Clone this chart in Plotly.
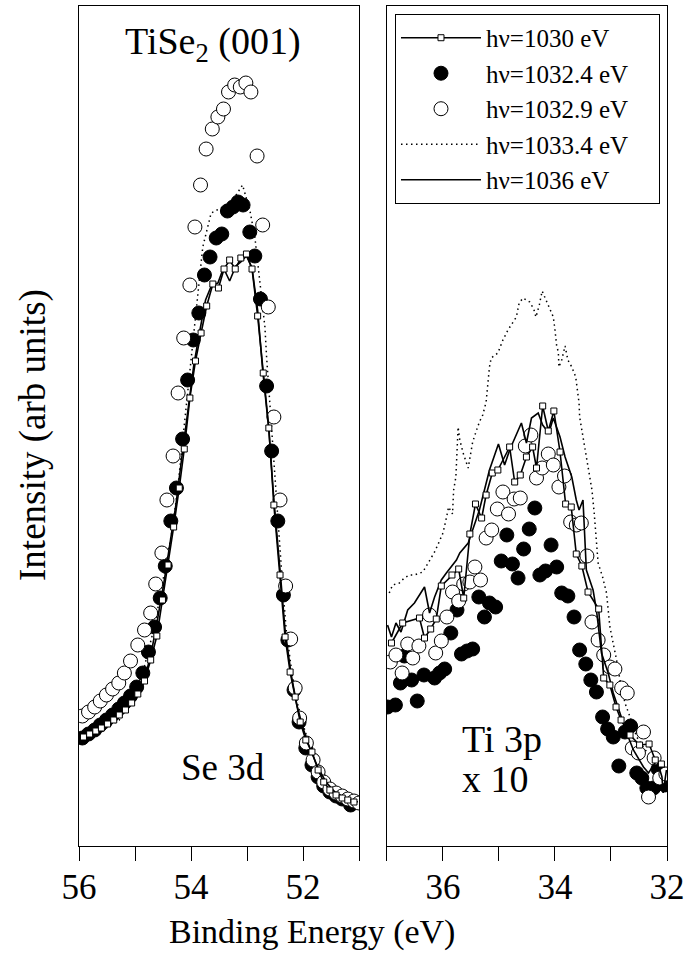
import plotly.graph_objects as go

FONT = "'Liberation Serif', 'Times New Roman', Times, 'DejaVu Serif', serif"

# ---------------- Se 3d (left panel) ----------------
se_x_1030 = [55.92, 55.81, 55.70, 55.60, 55.49, 55.38, 55.28, 55.17, 55.06, 54.95,
             54.83, 54.72, 54.61, 54.51, 54.41, 54.31, 54.21, 54.12, 54.02, 53.92,
             53.82, 53.72, 53.61, 53.51, 53.41, 53.31, 53.21, 53.11, 53.01, 52.91,
             52.81, 52.71, 52.61, 52.52, 52.41, 52.32, 52.23, 52.14, 52.05, 51.95,
             51.84, 51.73, 51.63, 51.52, 51.41, 51.30, 51.20, 51.09]
se_y_1030 = [10.9, 11.2, 11.5, 11.8, 12.2, 12.6, 13.1, 13.6, 14.3, 15.2,
             16.5, 18.6, 21.0, 24.6, 28.1, 31.9, 35.8, 39.7, 44.8, 48.5,
             51.3, 54.0, 56.2, 55.8, 57.7, 58.6, 57.7, 58.8, 59.2, 57.7,
             53.0, 47.3, 41.8, 34.1, 27.1, 20.9, 17.4, 14.9, 12.4, 10.6,
             9.4, 7.6, 6.4, 5.6, 5.1, 4.8, 4.6, 4.4]

se_x_10324 = [55.94, 55.83, 55.72, 55.62, 55.51, 55.40, 55.29, 55.19, 55.08, 54.97,
              54.86, 54.76, 54.65, 54.55, 54.46, 54.36, 54.26, 54.15, 54.06, 53.96,
              53.86, 53.76, 53.66, 53.55, 53.45, 53.35, 53.25, 53.16, 53.07, 52.95,
              52.86, 52.76, 52.65, 52.56, 52.45, 52.35, 52.27, 52.16, 52.07, 51.95,
              51.84, 51.73, 51.63, 51.52, 51.41, 51.30, 51.15]
se_y_10324 = [10.8, 11.2, 11.6, 12.1, 12.6, 13.1, 13.7, 14.3, 15.0, 15.9,
              17.3, 19.4, 21.9, 24.8, 28.0, 32.5, 35.8, 40.7, 46.6, 50.6,
              53.3, 57.1, 58.9, 60.8, 61.2, 63.5, 63.9, 64.4, 64.1, 61.4,
              59.0, 54.7, 46.0, 39.5, 32.5, 25.1, 20.6, 15.6, 12.4, 9.8,
              8.1, 6.9, 6.0, 5.4, 5.0, 4.7, 4.1]

se_x_10329 = [55.94, 55.83, 55.72, 55.62, 55.51, 55.40, 55.29, 55.19, 55.08, 54.95,
              54.83, 54.72, 54.63, 54.52, 54.43, 54.32, 54.23, 54.13, 54.02, 53.93,
              53.83, 53.73, 53.62, 53.52, 53.42, 53.33, 53.22, 53.12, 53.02, 52.93,
              52.82, 52.72, 52.62, 52.52, 52.41, 52.31, 52.22, 52.14, 52.06, 51.94,
              51.82, 51.73, 51.63, 51.52, 51.41, 51.30, 51.20, 51.09, 51.00]
se_y_10329 = [13.0, 13.4, 13.9, 14.5, 15.1, 15.7, 16.3, 17.3, 18.5, 20.1,
              21.6, 23.3, 26.2, 29.3, 34.6, 39.0, 45.3, 50.8, 56.1, 61.9,
              66.1, 69.7, 71.7, 72.9, 73.7, 75.4, 76.1, 75.9, 76.3, 75.4,
              69.0, 62.1, 53.9, 42.9, 34.6, 26.0, 20.7, 15.8, 12.8, 10.3,
              8.6, 7.4, 6.4, 5.7, 5.3, 5.0, 4.7, 4.5, 4.3]

se_x_10334 = [55.99, 55.63, 55.28, 55.01, 54.83, 54.65, 54.47, 54.35, 54.24, 54.15,
              54.02, 53.93, 53.87, 53.79, 53.64, 53.43, 53.24, 53.08, 52.95, 52.86,
              52.80, 52.74, 52.68, 52.65, 52.59, 52.50, 52.38, 52.30, 52.20, 52.09,
              51.97, 51.84, 51.70, 51.52, 51.34, 51.16, 51.02]
se_y_10334 = [10.4, 11.4, 12.6, 15.0, 18.0, 22.0, 27.5, 31.1, 35.6, 40.6,
              47.3, 52.6, 55.9, 59.9, 63.3, 63.9, 64.7, 66.1, 63.6, 60.9,
              57.9, 54.6, 51.9, 48.9, 43.9, 37.3, 27.3, 21.6, 17.4, 14.1,
              11.6, 9.4, 7.6, 6.0, 5.1, 4.6, 4.3]

se_x_1036 = [55.99, 55.63, 55.28, 55.01, 54.83, 54.70, 54.60, 54.49, 54.38, 54.27,
             54.17, 54.06, 53.95, 53.84, 53.74, 53.63, 53.52, 53.42, 53.31, 53.20,
             53.11, 53.01, 52.91, 52.81, 52.72, 52.61, 52.52, 52.41, 52.32, 52.21,
             52.11, 52.00, 51.88, 51.73, 51.59, 51.43, 51.25, 51.02]
se_y_1036 = [10.5, 11.6, 13.0, 14.6, 16.6, 19.6, 22.6, 26.1, 30.1, 34.1,
             38.6, 43.6, 48.1, 51.6, 54.6, 56.1, 56.3, 57.8, 56.5, 58.0,
             58.4, 59.0, 57.8, 53.6, 47.6, 41.6, 34.6, 27.6, 21.6, 17.1,
             14.1, 11.8, 9.8, 7.8, 6.4, 5.4, 4.8, 4.4]

# ---------------- Ti 3p x10 (right panel) ----------------
ti_x_1030 = [36.92, 36.72, 36.42, 36.33, 36.22, 36.12, 36.03, 35.84, 35.72, 35.63,
             35.52, 35.42, 35.31, 35.23, 35.12, 35.02, 34.81, 34.72, 34.62, 34.51,
             34.40, 34.33, 34.22, 34.12, 34.02, 33.91, 33.81, 33.71, 33.62, 33.52,
             33.41, 33.22, 33.13, 33.02, 32.91, 32.82, 32.66, 32.49, 32.32, 32.21,
             32.10]
ti_y_1030 = [20.3, 22.3, 22.8, 20.8, 21.7, 22.7, 26.0, 27.1, 27.7, 24.8,
             31.2, 34.2, 32.8, 35.1, 37.3, 37.6, 39.9, 36.4, 37.1, 38.9,
             39.9, 37.8, 44.0, 41.5, 43.5, 39.4, 34.2, 33.9, 29.2, 28.0,
             25.4, 23.7, 16.8, 16.1, 13.9, 12.6, 11.1, 10.1, 10.2, 8.6,
             8.2]

ti_x_10324 = [36.99, 36.85, 36.76, 36.69, 36.56, 36.46, 36.34, 36.15, 36.06, 35.97,
              35.86, 35.75, 35.67, 35.57, 35.47, 35.36, 35.26, 35.17, 35.06, 34.96,
              34.86, 34.76, 34.66, 34.56, 34.46, 34.36, 34.27, 34.17, 34.07, 33.97,
              33.88, 33.77, 33.66, 33.56, 33.45, 33.36, 33.26, 33.15, 33.06, 32.96,
              32.86, 32.75, 32.65, 32.54, 32.45, 32.36, 32.24, 32.16, 32.04]
ti_y_10324 = [13.9, 14.1, 16.3, 19.0, 16.6, 14.5, 17.1, 16.8, 17.3, 17.7,
              21.3, 23.6, 19.2, 19.5, 19.7, 24.9, 22.9, 24.3, 23.9, 28.5,
              31.1, 28.2, 26.8, 29.7, 31.7, 33.8, 27.1, 27.5, 30.1, 27.9,
              25.3, 25.0, 22.9, 19.6, 18.2, 16.6, 15.4, 12.9, 11.7, 10.9,
              8.0, 11.4, 12.0, 7.3, 6.8, 5.8, 5.8, 7.7, 6.1]

ti_x_10329 = [36.94, 36.84, 36.73, 36.63, 36.54, 36.43, 36.24, 36.13, 36.03, 35.93,
              35.83, 35.72, 35.63, 35.52, 35.43, 35.33, 35.23, 35.13, 35.03, 34.93,
              34.83, 34.73, 34.62, 34.53, 34.43, 34.33, 34.23, 34.12, 34.03, 33.93,
              33.83, 33.72, 33.62, 33.53, 33.43, 33.34, 33.23, 33.13, 33.02, 32.93,
              32.81, 32.71, 32.62, 32.51, 32.42, 32.33, 32.23, 32.13, 32.02]
ti_y_10329 = [18.4, 19.1, 17.3, 20.2, 18.8, 20.0, 23.1, 19.3, 20.5, 22.9,
              25.4, 24.5, 26.2, 26.4, 27.9, 26.6, 30.8, 31.6, 33.7, 35.4,
              33.2, 34.7, 34.8, 40.0, 41.1, 36.8, 37.8, 39.2, 38.1, 35.9,
              37.0, 32.4, 32.1, 32.3, 29.0, 22.4, 20.6, 19.1, 17.9, 17.7,
              15.8, 15.3, 9.8, 9.3, 11.4, 4.9, 8.8, 6.8, 7.2]

ti_x_10334 = [36.96, 36.90, 36.78, 36.69, 36.60, 36.51, 36.36, 36.27, 36.15, 36.07,
              36.00, 35.94, 35.90, 35.83, 35.81, 35.77, 35.73, 35.70, 35.64, 35.55,
              35.52, 35.47, 35.40, 35.35, 35.29, 35.23, 35.17, 35.14, 35.02, 34.93,
              34.84, 34.78, 34.69, 34.64, 34.57, 34.45, 34.38, 34.34, 34.28, 34.23,
              34.15, 34.09, 34.03, 34.00, 33.97, 33.94, 33.93, 33.88, 33.82, 33.77,
              33.70, 33.63, 33.60, 33.57, 33.56, 33.53, 33.48, 33.44, 33.41, 33.38,
              33.34, 33.30, 33.27, 33.25, 33.23, 33.15, 33.08, 33.02, 32.96, 32.90,
              32.84, 32.75, 32.66, 32.54, 32.39, 32.21, 32.03]
ti_y_10334 = [25.3, 26.1, 26.3, 26.8, 27.1, 27.1, 27.4, 28.3, 29.4, 30.4,
              31.3, 32.8, 33.9, 33.2, 35.6, 36.9, 41.9, 40.6, 39.3, 37.8,
              38.9, 40.4, 41.6, 42.4, 43.1, 44.4, 47.9, 48.8, 49.3, 50.6,
              51.6, 52.1, 52.9, 54.3, 54.8, 54.4, 53.7, 52.9, 54.1, 55.5,
              54.4, 53.7, 52.9, 51.6, 50.0, 49.4, 47.9, 48.6, 50.0, 48.6,
              47.9, 46.9, 45.6, 44.3, 42.9, 41.9, 40.3, 39.3, 38.3, 36.9,
              35.6, 33.3, 31.3, 29.6, 28.3, 26.9, 25.3, 21.9, 20.3, 18.6,
              16.6, 14.3, 12.9, 10.9, 9.6, 8.6, 7.8]

ti_x_1036 = [36.99, 36.92, 36.84, 36.75, 36.63, 36.51, 36.33, 36.24, 36.15, 36.03,
             35.94, 35.76, 35.70, 35.55, 35.35, 35.17, 35.01, 34.90, 34.81, 34.60,
             34.51, 34.42, 34.30, 34.22, 34.11, 34.03, 33.91, 33.82, 33.70, 33.62,
             33.57, 33.50, 33.44, 33.38, 33.32, 33.26, 33.17, 33.05, 32.96, 32.84,
             32.72, 32.60, 32.42, 32.33, 32.18, 32.09, 32.07, 32.01]
ti_y_1036 = [22.1, 20.9, 22.3, 21.4, 23.6, 24.3, 25.9, 23.3, 24.9, 26.6,
             27.3, 28.6, 29.3, 30.3, 33.6, 37.6, 40.2, 38.1, 39.6, 42.3,
             40.3, 42.8, 43.3, 42.1, 41.3, 42.8, 40.9, 38.9, 36.9, 34.6,
             33.6, 34.6, 27.6, 26.6, 25.6, 23.6, 19.3, 17.3, 15.3, 13.3,
             11.3, 9.6, 7.9, 7.3, 8.6, 6.9, 5.3, 7.6]

# ---------------- labels ----------------
legend_names = ["h\u03bd=1030 eV", "h\u03bd=1032.4 eV", "h\u03bd=1032.9 eV",
                "h\u03bd=1033.4 eV", "h\u03bd=1036 eV"]
left_ticks = [56, 54, 52]
right_ticks = [36, 34, 32]

fig = go.Figure()

panels = [
    ("x", "y", se_x_1030, se_y_1030, se_x_10324, se_y_10324, se_x_10329, se_y_10329,
     se_x_10334, se_y_10334, se_x_1036, se_y_1036, True),
    ("x2", "y2", ti_x_1030, ti_y_1030, ti_x_10324, ti_y_10324, ti_x_10329, ti_y_10329,
     ti_x_10334, ti_y_10334, ti_x_1036, ti_y_1036, False),
]

pad = "\u00a0\u00a0\u00a0\u00a0"
for (xa, ya, x30, y30, x324, y324, x329, y329, x334, y334, x36, y36, show) in panels:
    fig.add_trace(go.Scatter(x=x334, y=y334, xaxis=xa, yaxis=ya, mode="lines",
                             name=legend_names[3] + pad, legendgroup="g4", legendrank=4,
                             showlegend=show,
                             line=dict(color="black", width=1.5, dash="1.5px,3.5px")))
    fig.add_trace(go.Scatter(x=x324, y=y324, xaxis=xa, yaxis=ya, mode="markers",
                             name=legend_names[1] + pad, legendgroup="g2", legendrank=2,
                             showlegend=show,
                             marker=dict(symbol="circle", size=14, color="black",
                                         line=dict(color="black", width=1))))
    fig.add_trace(go.Scatter(x=x329, y=y329, xaxis=xa, yaxis=ya, mode="markers",
                             name=legend_names[2] + pad, legendgroup="g3", legendrank=3,
                             showlegend=show,
                             marker=dict(symbol="circle", size=14, color="white",
                                         line=dict(color="black", width=1))))
    fig.add_trace(go.Scatter(x=x36, y=y36, xaxis=xa, yaxis=ya, mode="lines",
                             name=legend_names[4] + pad, legendgroup="g5", legendrank=5,
                             showlegend=show,
                             line=dict(color="black", width=1.6)))
    fig.add_trace(go.Scatter(x=x30, y=y30, xaxis=xa, yaxis=ya, mode="lines+markers",
                             name=legend_names[0] + pad, legendgroup="g1", legendrank=1,
                             showlegend=show,
                             line=dict(color="black", width=1.6),
                             marker=dict(symbol="square", size=6, color="white",
                                         line=dict(color="black", width=1))))

axis_common = dict(showline=True, mirror=True, linecolor="black", linewidth=1,
                   showgrid=False, zeroline=False)
xaxis_common = dict(axis_common, ticks="outside", ticklen=14, tickwidth=1,
                    tickcolor="black", ticklabelstandoff=-4,
                    tickfont=dict(family=FONT, size=35, color="black"),
                    minor=dict(ticks="outside", ticklen=14, tickwidth=1,
                               tickcolor="black", dtick=1, tick0=0, showgrid=False))

fig.update_layout(
    width=698, height=965,
    margin=dict(l=79, r=31, t=6, b=119),
    paper_bgcolor="white", plot_bgcolor="white",
    font=dict(family=FONT, color="black"),
    xaxis=dict(xaxis_common, domain=[0, 0.4762], range=[56, 51],
               tickvals=left_ticks, anchor="y"),
    xaxis2=dict(xaxis_common, domain=[0.5238, 1], range=[37, 32],
                tickvals=right_ticks, anchor="y2"),
    yaxis=dict(axis_common, domain=[0, 1], range=[0, 84], showticklabels=False,
               ticks="", anchor="x"),
    yaxis2=dict(axis_common, domain=[0, 1], range=[0, 84], showticklabels=False,
                ticks="", anchor="x2", matches="y"),
    showlegend=True,
    legend=dict(x=0.5374, y=0.9905, xanchor="left", yanchor="top",
                bordercolor="black", borderwidth=1, bgcolor="white",
                font=dict(family=FONT, size=25, color="black"),
                itemwidth=80, itemsizing="trace", tracegroupgap=0),
    annotations=[
        dict(text="TiSe<sub>2</sub> (001)", x=0.2287, y=0.955, xref="paper", yref="paper",
             showarrow=False, font=dict(family=FONT, size=38, color="black"),
             xanchor="center", yanchor="middle"),
        dict(text="Se 3d", x=0.3197, y=0.093, xref="paper", yref="paper",
             showarrow=False, font=dict(family=FONT, size=37, color="black"),
             xanchor="right", yanchor="middle"),
        dict(text="Ti 3p", x=0.648, y=0.1274, xref="paper", yref="paper",
             showarrow=False, font=dict(family=FONT, size=38, color="black"),
             xanchor="left", yanchor="middle"),
        dict(text="x 10", x=0.648, y=0.0798, xref="paper", yref="paper",
             showarrow=False, font=dict(family=FONT, size=38, color="black"),
             xanchor="left", yanchor="middle"),
        dict(text="Intensity (arb units)", x=-0.077, y=0.489, xref="paper", yref="paper",
             showarrow=False, textangle=-90,
             font=dict(family=FONT, size=37, color="black"),
             xanchor="center", yanchor="middle"),
        dict(text="Binding Energy (eV)", x=0.396, y=-0.102, xref="paper", yref="paper",
             showarrow=False, font=dict(family=FONT, size=34, color="black"),
             xanchor="center", yanchor="middle"),
    ],
)

fig.write_html("out.html")
